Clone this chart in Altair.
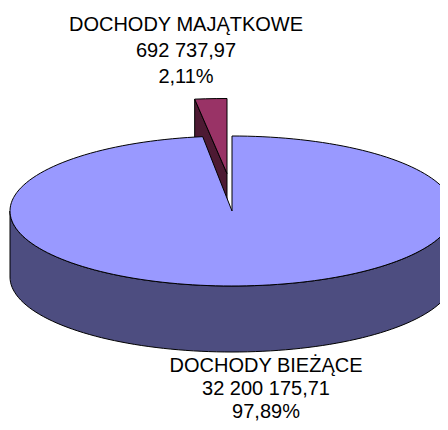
import math
import altair as alt
import pandas as pd

# Data
categories = ["DOCHODY MAJĄTKOWE", "DOCHODY BIEŻĄCE"]
values = [692737.97, 32200175.71]
value_labels = ["692 737,97", "32 200 175,71"]
share_labels = ["2,11%", "97,89%"]

# Colours
TOP_MAIN, SIDE_MAIN = "#9999FF", "#4D4D80"
TOP_SLICE, SIDE_SLICE = "#993366", "#4D1A33"

# Pie projection, in page pixels
W, H = 432, 414
CX, CY, RX, RY, DEPTH = 232, 211, 222, 75, 66
EX, EY = -5, -37.5
SLICE_RX = 245
STEP = 2

slice_deg = 360 * values[0] / sum(values)


def rim(t, dx=0, dy=0, rx=RX):
    a = math.radians(t)
    return (CX + dx + rx * math.sin(a), CY + dy - RY * math.cos(a))


def shape(pts, name):
    return pd.DataFrame(
        [{"x": p[0], "y": p[1], "i": i, "name": name} for i, p in enumerate(pts + pts[:1])]
    )


def degs(a, b):
    n = max(1, int(abs(b - a) / STEP))
    return [a + (b - a) * k / n for k in range(n + 1)]


main_top = [rim(t) for t in degs(0, 360 - slice_deg)] + [(CX, CY)]
main_wall = [rim(t) for t in degs(90, 270)] + [rim(t, 0, DEPTH) for t in degs(270, 90)]
slice_top = [rim(t, EX, EY, SLICE_RX) for t in degs(360 - slice_deg, 360)] + [(CX + EX, CY + EY)]
left = rim(360 - slice_deg, EX, EY, SLICE_RX)
slice_wall = [left, (CX + EX, CY + EY), (CX + EX, CY + EY + DEPTH), (left[0], left[1] + DEPTH)]

x_scale = alt.Scale(domain=[8, 8 + W], range=[0, W], nice=False, zero=False)
y_scale = alt.Scale(domain=[8, 8 + H], range=[0, H], nice=False, zero=False)


def poly(pts, fill, name):
    return (
        alt.Chart(shape(pts, name))
        .mark_line(filled=True, fill=fill, stroke="#000000", strokeWidth=1, clip=True, interpolate="linear")
        .encode(
            x=alt.X("x:Q", scale=x_scale, axis=None),
            y=alt.Y("y:Q", scale=y_scale, axis=None),
            order=alt.Order("i:Q"),
        )
    )


labels = pd.DataFrame(
    [
        {"x": 186, "y": 25, "t": categories[0]},
        {"x": 186, "y": 51, "t": value_labels[0]},
        {"x": 186, "y": 77, "t": share_labels[0]},
        {"x": 266, "y": 366, "t": categories[1]},
        {"x": 266, "y": 389, "t": value_labels[1]},
        {"x": 266, "y": 412, "t": share_labels[1]},
    ]
)
text = (
    alt.Chart(labels)
    .mark_text(font="Liberation Sans", fontSize=20, color="#000000", align="center", baseline="middle")
    .encode(
        x=alt.X("x:Q", scale=x_scale, axis=None),
        y=alt.Y("y:Q", scale=y_scale, axis=None),
        text="t:N",
    )
)

chart = (
    alt.layer(
        poly(slice_wall, SIDE_SLICE, "slice wall"),
        poly(slice_top, TOP_SLICE, "slice top"),
        poly(main_wall, SIDE_MAIN, "main wall"),
        poly(main_top, TOP_MAIN, "main top"),
        text,
    )
    .properties(width=W, height=H, padding=0, autosize=alt.AutoSizeParams(type="none"), background="#ffffff")
    .configure_view(stroke=None)
)

chart.save("out.html", embed_options={"renderer": "svg", "actions": False})
